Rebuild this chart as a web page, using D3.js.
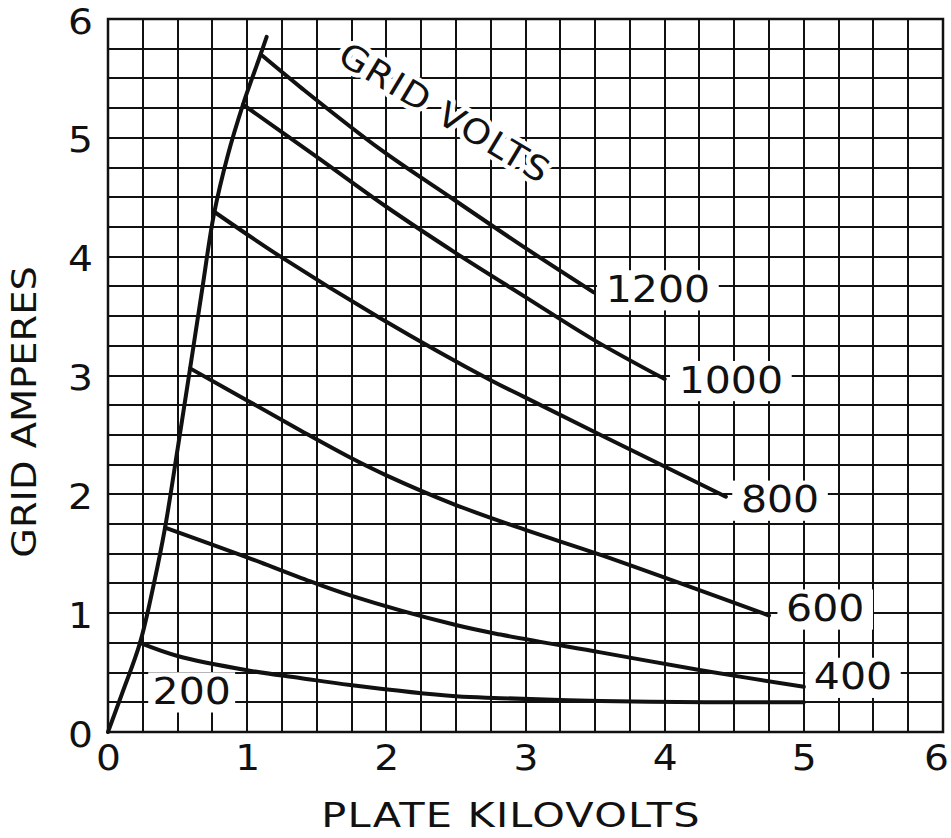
<!DOCTYPE html>
<html><head><meta charset="utf-8">
<script src="https://cdn.jsdelivr.net/npm/d3@7/dist/d3.min.js"></script>
<style>body{margin:0;background:#fff}svg{display:block}</style>
</head><body>
<svg id="chart" width="951" height="838"></svg>
<script>
// ---- data ----
const xTickValues = [0, 1, 2, 3, 4, 5, 6];
const yTickValues = [0, 1, 2, 3, 4, 5, 6];
const xTitle = "PLATE KILOVOLTS";
const yTitle = "GRID AMPERES";
const familyTitle = "GRID VOLTS";
const gridVolts = ["200", "400", "600", "800", "1000", "1200"];

const kv200 = [0.23, 0.5, 1.0, 1.38, 1.74, 2.5, 2.82, 3.54, 4.3, 5.0];
const amp200 = [0.75, 0.64, 0.52, 0.455, 0.395, 0.30, 0.285, 0.26, 0.25, 0.25];
const kv400 = [0.41, 1.0, 1.38, 1.74, 2.5, 2.82, 3.54, 4.26, 5.0];
const amp400 = [1.72, 1.47, 1.30, 1.15, 0.90, 0.82, 0.67, 0.52, 0.38];
const kv600 = [0.59, 1.0, 1.38, 1.74, 2.0, 2.5, 3.0, 3.54, 4.75];
const amp600 = [3.06, 2.79, 2.54, 2.31, 2.16, 1.91, 1.70, 1.49, 0.98];
const kv800 = [0.76, 1.24, 1.96, 2.75, 2.99, 3.54, 4.44];
const amp800 = [4.38, 4.0, 3.48, 2.96, 2.82, 2.50, 1.98];
const kv1000 = [0.97, 1.5, 2.0, 2.5, 3.0, 3.49, 4.0];
const amp1000 = [5.28, 4.84, 4.42, 4.03, 3.66, 3.30, 2.97];
const kv1200 = [1.11, 1.4, 1.96, 2.46, 2.99, 3.49];
const amp1200 = [5.69, 5.41, 4.90, 4.50, 4.08, 3.70];
const kvEnvelope = [0, 0.1, 0.23, 0.33, 0.41, 0.5, 0.59, 0.68, 0.76, 0.86, 0.97, 1.09, 1.14];
const ampEnvelope = [0, 0.32, 0.75, 1.25, 1.72, 2.38, 3.06, 3.75, 4.35, 4.85, 5.28, 5.68, 5.85];

// ---- layout ----
const svg = d3.select("#chart");
const W = 951, H = 838;
const x = d3.scaleLinear().domain([0, 6]).range([108, 943]);
const y = d3.scaleLinear().domain([0, 6]).range([732, 19]);
const FONT = "'DejaVu Sans', sans-serif";
const INK = "#111";

svg.append("rect").attr("width", W).attr("height", H).attr("fill", "#fff");

// grid (quarter-unit squares)
const gridVals = d3.range(0, 24.001, 1).map(i => i / 4);
const grid = svg.append("g").attr("stroke", INK).attr("stroke-width", 2).attr("shape-rendering", "crispEdges");
grid.selectAll("line.v").data(gridVals).join("line").attr("class", "v")
  .attr("x1", d => x(d)).attr("x2", d => x(d)).attr("y1", y(0)).attr("y2", y(6));
grid.selectAll("line.h").data(gridVals).join("line").attr("class", "h")
  .attr("y1", d => y(d)).attr("y2", d => y(d)).attr("x1", x(0)).attr("x2", x(6));
svg.append("rect").attr("x", x(0)).attr("y", y(6)).attr("width", x(6) - x(0)).attr("height", y(0) - y(6))
  .attr("fill", "none").attr("stroke", INK).attr("stroke-width", 2.5);

// curves
const series = [
  {v: gridVolts[0], kv: kv200, a: amp200},
  {v: gridVolts[1], kv: kv400, a: amp400},
  {v: gridVolts[2], kv: kv600, a: amp600},
  {v: gridVolts[3], kv: kv800, a: amp800},
  {v: gridVolts[4], kv: kv1000, a: amp1000},
  {v: gridVolts[5], kv: kv1200, a: amp1200}
];
const line = d3.line().x(d => x(d[0])).y(d => y(d[1])).curve(d3.curveCatmullRom.alpha(0.5));

// label layout: offsets from curve end (px)
const labelLayout = {
  "1200": {dx: 12, dy: -4},
  "1000": {dx: 14, dy: 0},
  "800": {dx: 15, dy: 2},
  "600": {dx: 17, dy: -8},
  "400": {dx: 10, dy: -11}
};
const labelG = svg.append("g");
const curveG = svg.append("g");
const textG = svg.append("g");
const SX = 1.08;

series.forEach(s => {
  const pts = s.kv.map((k, i) => [k, s.a[i]]);
  curveG.append("path").attr("d", line(pts)).attr("fill", "none")
    .attr("stroke", INK).attr("stroke-width", 4).attr("stroke-linecap", "round");
  let lx, ly;
  if (s.v === "200") {
    lx = x(0.32); ly = y(0.35);
  } else {
    const end = pts[pts.length - 1];
    lx = x(end[0]) + labelLayout[s.v].dx;
    ly = y(end[1]) + labelLayout[s.v].dy;
  }
  const tr = `translate(${lx},${ly}) scale(${SX},1)`;
  const t = textG.append("text").attr("transform", tr)
    .attr("dominant-baseline", "central")
    .attr("font-family", FONT).attr("font-size", 38).attr("fill", INK)
    .text(s.v);
  const bb = t.node().getBBox();
  const padX = s.v === "200" ? 4 : 8;
  labelG.append("rect").attr("transform", tr).attr("x", bb.x - padX).attr("y", bb.y + 4)
    .attr("width", bb.width + 2 * padX).attr("height", bb.height - 4).attr("fill", "#fff");
});

// envelope
curveG.append("path")
  .attr("d", line(kvEnvelope.map((k, i) => [k, ampEnvelope[i]])))
  .attr("fill", "none").attr("stroke", INK).attr("stroke-width", 4).attr("stroke-linecap", "round");

// family title
textG.append("text")
  .attr("transform", "translate(445,113) rotate(31) scale(1.1,1)")
  .attr("text-anchor", "middle").attr("dominant-baseline", "central")
  .attr("font-family", FONT).attr("font-size", 34).attr("fill", INK)
  .attr("letter-spacing", 1.5)
  .attr("stroke", "#fff").attr("stroke-width", 9).attr("paint-order", "stroke")
  .attr("stroke-linejoin", "round")
  .text(familyTitle);

// axes (tick labels only)
const xAxis = d3.axisBottom(x).tickValues(xTickValues).tickSize(0).tickPadding(0).tickFormat(d3.format("d"));
const gx = svg.append("g").attr("transform", `translate(0,${y(0) + 38})`).call(xAxis);
gx.select(".domain").remove();
gx.selectAll("text").attr("font-family", FONT).attr("font-size", 35).attr("fill", INK)
  .attr("dy", null).attr("y", 0)
  .attr("transform", d => d === 6 ? "translate(-7,0) scale(1.12,1)" : "scale(1.12,1)");

const yAxis = d3.axisLeft(y).tickValues(yTickValues).tickSize(0).tickPadding(0).tickFormat(d3.format("d"));
const gy = svg.append("g").attr("transform", `translate(${x(0) - 15},0)`).call(yAxis);
gy.select(".domain").remove();
gy.selectAll("text").attr("font-family", FONT).attr("font-size", 35).attr("fill", INK)
  .attr("dy", "0.4em").attr("x", 0).attr("transform", "scale(1.12,1)");

// axis titles
svg.append("text").attr("transform", "translate(511,827) scale(1.22,1)")
  .attr("text-anchor", "middle")
  .attr("font-family", FONT).attr("font-size", 34).attr("fill", INK)
  .attr("letter-spacing", 1)
  .text(xTitle);
svg.append("text").attr("transform", "translate(36,412) rotate(-90) scale(1.13,1)")
  .attr("text-anchor", "middle")
  .attr("font-family", FONT).attr("font-size", 34).attr("fill", INK)
  .text(yTitle);
</script>
</body></html>
